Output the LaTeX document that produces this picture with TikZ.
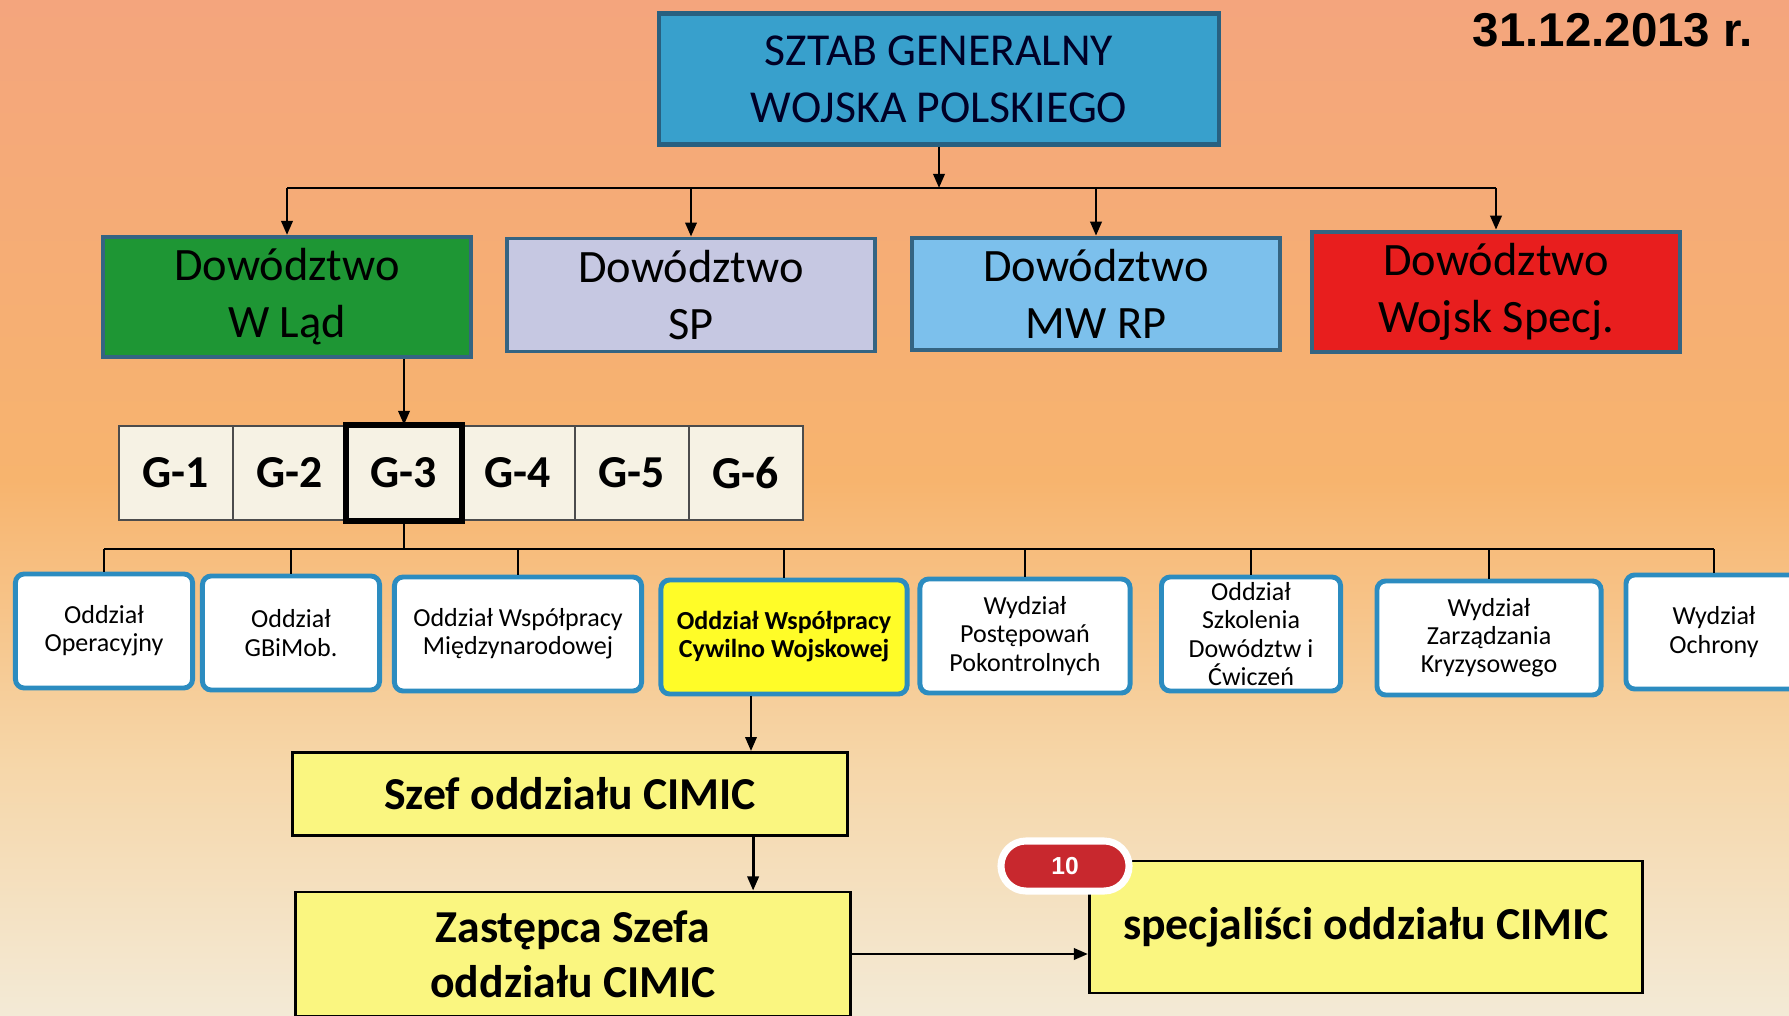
\documentclass[tikz,border=0pt]{standalone}
\usepackage{fontspec}
\setmainfont{Carlito}
\newfontfamily\datefont{Liberation Sans}
\usepackage{tikz}
\usetikzlibrary{arrows.meta}
\usepackage{xcolor}
\definecolor{sgblue}{RGB}{56,160,204}
\definecolor{sgedge}{RGB}{40,96,128}
\definecolor{cmdedge}{RGB}{52,100,130}
\definecolor{ladgreen}{RGB}{30,150,52}
\definecolor{spgrey}{RGB}{198,200,226}
\definecolor{mwblue}{RGB}{124,192,236}
\definecolor{wsred}{RGB}{232,30,30}
\definecolor{gcream}{RGB}{246,242,228}
\definecolor{unitblue}{RGB}{44,140,192}
\definecolor{lemon}{RGB}{255,252,40}
\definecolor{paleyel}{RGB}{250,246,128}
\definecolor{badgered}{RGB}{200,40,46}
\definecolor{bgtop}{RGB}{244,165,125}
\definecolor{bgmid}{RGB}{247,180,110}
\definecolor{bglow}{RGB}{246,214,168}
\definecolor{bgbot}{RGB}{243,234,214}

\begin{document}
\begin{tikzpicture}[x=0.01cm,y=-0.01cm,
  conn/.style={line width=0.8pt,-{Triangle[length=4pt,width=3.2pt]}},
  bus/.style={line width=0.8pt},
  sgbox/.style={draw=sgedge,line width=1.2pt,fill=sgblue,minimum width=5.59cm,minimum height=1.31cm,
    align=center,text=black!85!blue,font=\fontsize{13}{16.2}\selectfont},
  cmdbox/.style={draw=cmdedge,line width=1.1pt,minimum width=3.67cm,minimum height=1.07cm,
    align=center,font=\fontsize{13.2}{16.2}\selectfont},
  gbox/.style={draw=black!70,line width=0.6pt,fill=gcream,minimum width=1.14cm,minimum height=0.94cm,
    font=\bfseries\fontsize{13}{15}\selectfont},
  unitbox/.style={draw=unitblue,line width=1.4pt,fill=white,rounded corners=2.5pt,minimum height=1.14cm,
    align=center,inner sep=1pt,font=\fontsize{7.4}{8}\selectfont},
  cimicbox/.style={draw=black,line width=0.8pt,fill=paleyel,align=center,
    font=\bfseries\fontsize{13}{15.6}\selectfont}]

  \useasboundingbox (0,0) rectangle (1789,1016);
  \clip (0,0) rectangle (1789,1016);
  \fill[top color=bgtop,bottom color=bgmid] (0,0) rectangle (1789,481);
  \fill[top color=bgmid,bottom color=bglow] (0,480) rectangle (1789,761);
  \fill[top color=bglow,bottom color=bgbot] (0,760) rectangle (1789,1016);

  \node[sgbox] (sg) at (939,79) {SZTAB GENERALNY\\WOJSKA POLSKIEGO};
  \node[anchor=east,font=\datefont\bfseries\fontsize{13.5}{16}\selectfont] (date) at (1765,30) {31.12.2013 r.};

  \node[cmdbox,fill=ladgreen] (dlad) at (287,297) {Dowództwo\\W Ląd};
  \node[cmdbox,fill=spgrey] (dsp) at (691,295) {Dowództwo\\SP};
  \node[cmdbox,fill=mwblue] (dmw) at (1096,294) {Dowództwo\\MW RP};
  \node[cmdbox,fill=wsred] (dws) at (1496,292) {Dowództwo\\Wojsk Specj.};

  \coordinate (topbus) at (939,188);
  \draw[conn] (sg.south) -- (topbus);
  \draw[bus] (dlad.north |- topbus) -- (dws.north |- topbus);
  \foreach \d in {dlad,dsp,dmw,dws}
    \draw[conn] (\d.north |- topbus) -- (\d.north);

  \foreach \i in {1,...,6}
    \node[gbox] (g\i) at ({62+\i*114},473) {G-\i};
  \draw[line width=1.6pt] (g3.north west) rectangle (g3.south east);
  \draw[conn] (g3.north |- dlad.south) -- (g3.north);

  \foreach \n/\x/\y/\w/\t in {u1/104/631/1.77/{Oddział\\Operacyjny},
      u2/291/633/1.77/{Oddział\\GBiMob.},
      u3/518/634/2.47/{Oddział Współpracy\\Międzynarodowej},
      u5/1025/636/2.10/{Wydział\\Postępowań\\Pokontrolnych},
      u6/1251/634/1.79/{Oddział\\Szkolenia\\Dowództw i\\Ćwiczeń},
      u7/1489/638/2.24/{Wydział\\Zarządzania\\Kryzysowego},
      u8/1714/632/1.76/{Wydział\\Ochrony}}
    \node[unitbox,minimum width=\w cm] (\n) at (\x,\y) {\t};
  \node[unitbox,fill=lemon,minimum width=2.46cm,font=\bfseries\fontsize{7.4}{8}\selectfont] (u4) at (784,637)
    {Oddział Współpracy\\Cywilno Wojskowej};

  \coordinate (lowbus) at (404,549);
  \draw[bus] (g3.south) -- (lowbus);
  \draw[bus] (u1.north |- lowbus) -- (u8.north |- lowbus);
  \foreach \u in {u1,u2,u3,u4,u5,u6,u7,u8}
    \draw[bus] (\u.north |- lowbus) -- (\u.north);

  \node[cimicbox,minimum width=5.55cm,minimum height=0.83cm] (szef) at (570,794) {Szef oddziału CIMIC};
  \node[cimicbox,minimum width=5.54cm,minimum height=1.24cm] (zs) at (573,954) {Zastępca Szefa\\oddziału CIMIC};
  \node[cimicbox,minimum width=5.53cm,minimum height=1.32cm] (spec) at (1366,927) {specjaliści oddziału CIMIC};

  \draw[conn] ([xshift=-0.33cm]u4.south) -- ([xshift=-0.33cm]u4.south |- szef.north);
  \draw[conn] ([xshift=1.83cm]szef.south) -- ([xshift=1.83cm]szef.south |- zs.north);
  \draw[conn] (zs.east) -- (zs.east -| spec.west);

  \node[draw=white,line width=2pt,fill=badgered,rounded corners=0.25cm,minimum width=1.28cm,minimum height=0.5cm,
    text=white,font=\datefont\bfseries\fontsize{7}{8}\selectfont] (badge) at (1065,866) {10};
\end{tikzpicture}
\end{document}
